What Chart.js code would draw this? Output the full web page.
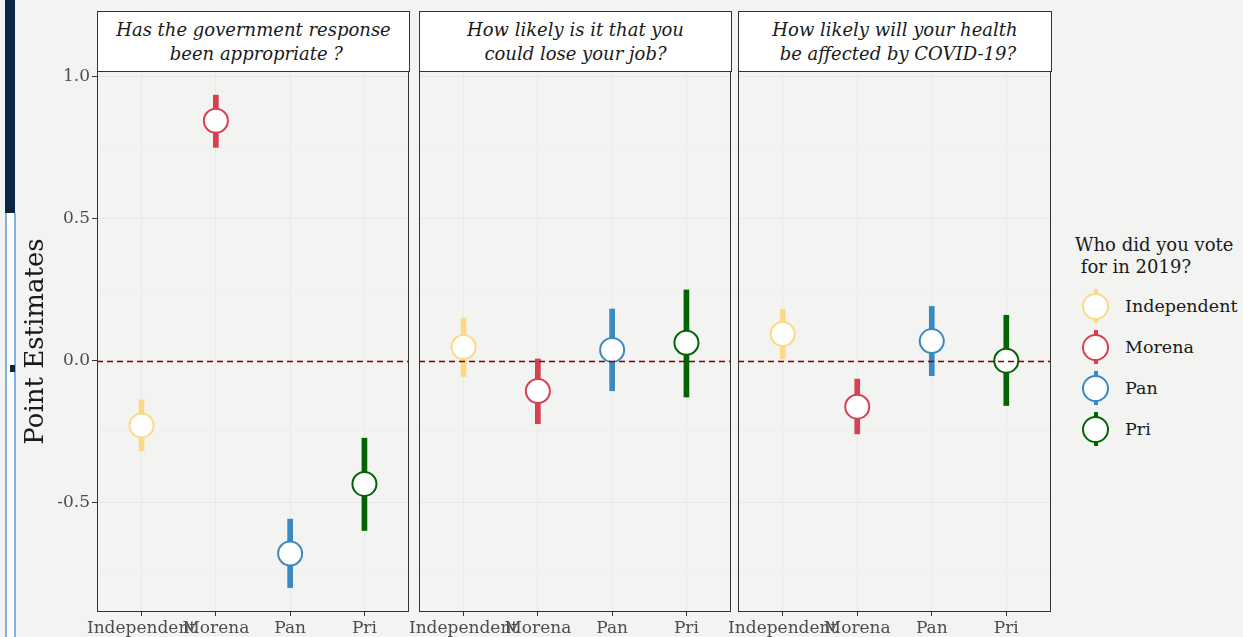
<!DOCTYPE html>
<html>
<head>
<meta charset="utf-8">
<script src="https://cdn.jsdelivr.net/npm/chart.js@4.4.1/dist/chart.umd.min.js"></script>
<style>
  body { margin: 0; width: 1243px; height: 637px; overflow: hidden; position: relative;
         background: #f3f3f2; font-family: 'DejaVu Serif', serif; color: #1a1a1a; }
  canvas { position: absolute; top: 50px; }
  .strip { position: absolute; top: 11px; height: 61px; box-sizing: border-box; border: 1px solid #333;
           background: #fff; font-style: italic; font-size: 18px; line-height: 24px; text-align: center;
           padding-top: 6px; white-space: pre; color: #1a1a1a; }
  .legend-title { position: absolute; left: 1075px; top: 234px; font-size: 18px; line-height: 22px; white-space: pre; }
  .key-bar { position: absolute; width: 4px; height: 34px; }
  .key-dot { position: absolute; width: 27px; height: 27px; box-sizing: border-box; border-radius: 50%; background: #fff; border: 2px solid; }
  .key-label { position: absolute; left: 1125px; font-size: 17.5px; line-height: 22px; }
  .edge-a { position: absolute; left: 5px; top: 0; width: 10px; height: 213px; background: #0b2545; }
  .edge-b { position: absolute; left: 5px; top: 213px; width: 11px; height: 424px; box-sizing: border-box; background: #fff;
            border-left: 2px solid #7fb2e2; border-right: 2px solid #7fb2e2; }
  .edge-c { position: absolute; left: 10px; top: 365px; width: 5px; height: 7px; background: #0b2545; }
</style>
</head>
<body>
<div class="edge-a"></div><div class="edge-b"></div><div class="edge-c"></div>
<canvas id="p0"></canvas>
<canvas id="p1"></canvas>
<canvas id="p2"></canvas>
<script>
// categories and colours
const categories = ['Independent', 'Morena', 'Pan', 'Pri'];
const partyColors = ['#FCD987', '#D7404F', '#3A89C1', '#006400'];
const legendTitle = 'Who did you vote\n for in 2019?';
const yAxisTitle = 'Point Estimates';

const panelTitles = [
  'Has the government response\n been appropriate ?',
  'How likely is it that you\ncould lose your job?',
  'How likely will your health\n be affected by COVID-19?'
];

// point estimates and intervals, per panel
const govEst  = [-0.227, 0.846, -0.678, -0.433];
const govLow  = [-0.317, 0.752, -0.798, -0.597];
const govHigh = [-0.137, 0.936, -0.557, -0.272];

const jobEst  = [0.049, -0.106, 0.039, 0.064];
const jobLow  = [-0.055, -0.221, -0.105, -0.127];
const jobHigh = [0.150, 0.007, 0.183, 0.250];

const healthEst  = [0.095, -0.161, 0.070, 0.001];
const healthLow  = [0.008, -0.257, -0.052, -0.157];
const healthHigh = [0.182, -0.064, 0.192, 0.161];

// axis ticks
const yTickValues = [-0.75, -0.5, -0.25, 0, 0.25, 0.5, 0.75, 1.0];
const yMajorTicks = [-0.5, 0, 0.5, 1.0];
const yMin = -0.884, yMax = 1.021;
const refLine = 0;

const panelData = [
  { est: govEst, low: govLow, high: govHigh },
  { est: jobEst, low: jobLow, high: jobHigh },
  { est: healthEst, low: healthLow, high: healthHigh }
];

// layout of the three facets
const panels = [
  { left: 97, width: 312, axisW: 97 },
  { left: 419, width: 312, axisW: 20 },
  { left: 738, width: 313, axisW: 20 }
];

const isMajor = v => yMajorTicks.some(m => Math.abs(m - v) < 1e-6);

const panelDeco = {
  id: 'panelDeco',
  afterDatasetsDraw(chart) {
    const { ctx, chartArea: a, scales: { y } } = chart;
    const py = Math.round(y.getPixelForValue(refLine)) + 0.5;
    ctx.save();
    ctx.strokeStyle = '#8B0000';
    ctx.lineWidth = 1.5;
    ctx.setLineDash([6, 4]);
    ctx.beginPath();
    ctx.moveTo(a.left, py);
    ctx.lineTo(a.right, py);
    ctx.stroke();
    ctx.restore();
  },
  afterDraw(chart) {
    const { ctx, chartArea: a } = chart;
    ctx.save();
    ctx.strokeStyle = '#333';
    ctx.lineWidth = 1;
    ctx.strokeRect(a.left + 0.5, a.top + 0.5, a.right - a.left - 1, a.bottom - a.top - 1);
    ctx.restore();
  }
};

Chart.defaults.font.family = "'DejaVu Serif', serif";

panels.forEach((p, i) => {
  const cv = document.getElementById('p' + i);
  cv.width = p.axisW + p.width;
  cv.height = 587;
  cv.style.left = (p.left - p.axisW) + 'px';

  const d = panelData[i];
  const first = i === 0;

  new Chart(cv, {
    type: 'bar',
    data: {
      datasets: [
        {
          type: 'line',
          order: 0,
          data: categories.map((c, k) => ({ x: k + 1, y: d.est[k] })),
          showLine: false,
          pointRadius: 12,
          pointBorderWidth: 2,
          pointBackgroundColor: '#fff',
          pointBorderColor: partyColors
        },
        {
          type: 'bar',
          order: 1,
          data: categories.map((c, k) => ({ x: k + 1, y: [d.low[k], d.high[k]] })),
          backgroundColor: partyColors,
          barThickness: 5,
          borderWidth: 0
        }
      ]
    },
    options: {
      responsive: false,
      animation: false,
      events: [],
      layout: { autoPadding: false, padding: { top: 21, right: 0, left: 0, bottom: 0 } },
      plugins: { legend: { display: false }, tooltip: { enabled: false } },
      scales: {
        x: {
          type: 'linear',
          min: 0.4,
          max: 4.6,
          offset: false,
          afterBuildTicks: s => { s.ticks = categories.map((c, k) => ({ value: k + 1 })); },
          afterFit: s => { s.height = 25; s.paddingLeft = 0; s.paddingRight = 0; },
          border: { display: false },
          grid: { offset: false, color: '#e9e9e9', tickColor: '#333', tickLength: 4 },
          ticks: {
            autoSkip: false,
            maxRotation: 0,
            padding: 2,
            color: '#4d4d4d',
            font: { size: 17 },
            callback: v => categories[v - 1]
          }
        },
        y: {
          min: yMin,
          max: yMax,
          afterBuildTicks: s => { s.ticks = yTickValues.map(v => ({ value: v })); },
          afterFit: s => { s.width = p.axisW; s.paddingTop = 0; s.paddingBottom = 0; },
          border: { display: false },
          grid: {
            color: c => isMajor(c.tick.value) ? '#e8e8e8' : '#eeeeed',
            drawTicks: first,
            tickLength: 5,
            tickColor: c => isMajor(c.tick.value) ? '#333' : 'rgba(0,0,0,0)'
          },
          ticks: {
            display: first,
            padding: 2,
            color: '#4d4d4d',
            font: { size: 17 },
            callback: v => isMajor(v) ? v.toFixed(1) : ''
          },
          title: {
            display: first,
            text: yAxisTitle,
            color: '#1a1a1a',
            font: { size: 26 },
            padding: { top: 21, bottom: 0 }
          }
        }
      }
    },
    plugins: [panelDeco]
  });

  const strip = document.createElement('div');
  strip.className = 'strip';
  strip.style.left = p.left + 'px';
  strip.style.width = (p.width + 1) + 'px';
  strip.textContent = panelTitles[i];
  document.body.appendChild(strip);
});

// legend
const lt = document.createElement('div');
lt.className = 'legend-title';
lt.textContent = legendTitle;
document.body.appendChild(lt);

const keyY = [306, 347, 388, 429];
categories.forEach((c, k) => {
  const cy = keyY[k];
  const bar = document.createElement('div');
  bar.className = 'key-bar';
  bar.style.left = '1094px';
  bar.style.top = (cy - 17) + 'px';
  bar.style.background = partyColors[k];
  const dot = document.createElement('div');
  dot.className = 'key-dot';
  dot.style.left = '1082px';
  dot.style.top = (cy - 13) + 'px';
  dot.style.borderColor = partyColors[k];
  const lab = document.createElement('div');
  lab.className = 'key-label';
  lab.style.top = (cy - 11) + 'px';
  lab.textContent = c;
  document.body.append(bar, dot, lab);
});
</script>
</body>
</html>
